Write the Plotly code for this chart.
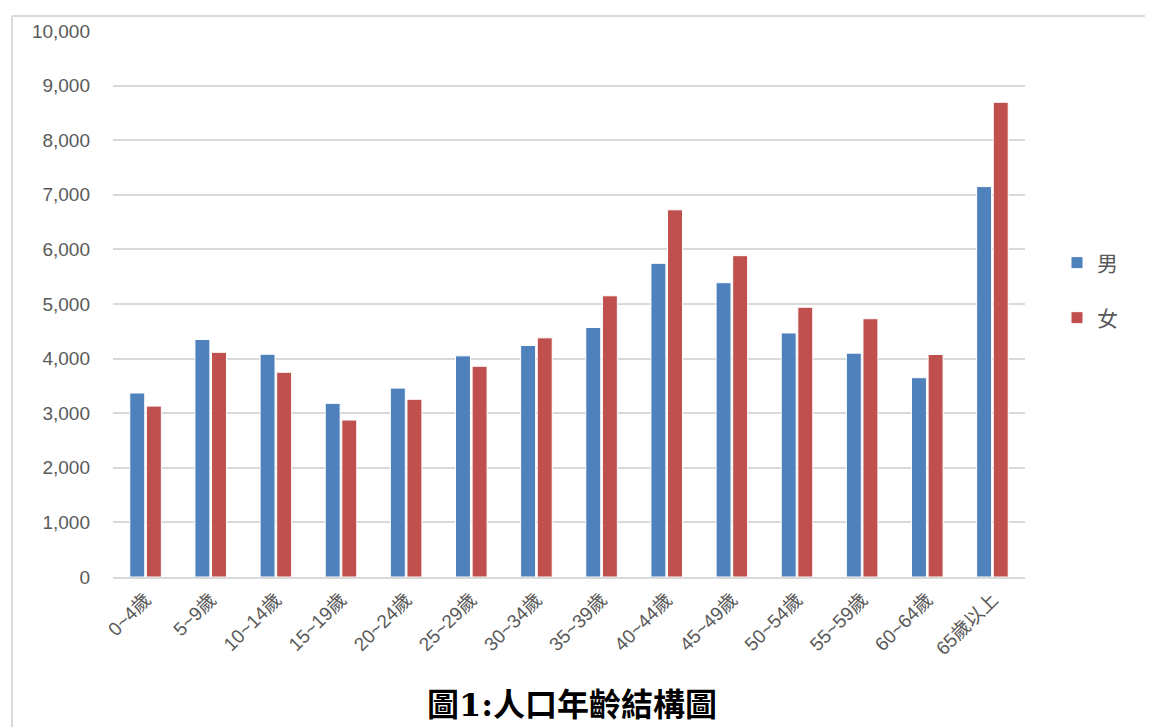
import plotly.graph_objects as go

categories = ["0~4歲", "5~9歲", "10~14歲", "15~19歲", "20~24歲", "25~29歲", "30~34歲",
              "35~39歲", "40~44歲", "45~49歲", "50~54歲", "55~59歲", "60~64歲", "65歲以上"]
male = [3370, 4350, 4080, 3180, 3460, 4050, 4240, 4570, 5745, 5390, 4470, 4100, 3650, 7150]
female = [3130, 4115, 3750, 2875, 3255, 3860, 4380, 5150, 6725, 5885, 4940, 4730, 4075, 8695]
y_ticks = [0, 1000, 2000, 3000, 4000, 5000, 6000, 7000, 8000, 9000, 10000]
title_text = "圖1:人口年齡結構圖"

FONT = "Liberation Sans, Noto Sans CJK TC, sans-serif"
GRAY = "#595959"
GRID = "#d9d9d9"

OFF = 8  # page body margin offset
W, H = 1153, 727
L, T = 113 - OFF, 31 - OFF
PLOT_RIGHT, PLOT_BOTTOM = 1025 - OFF, 577 - OFF
R, B = W - PLOT_RIGHT, H - PLOT_BOTTOM
pw, ph = PLOT_RIGHT - L, PLOT_BOTTOM - T

def px_x(px):
    return (px - OFF - L) / pw

def px_y(py):
    return (PLOT_BOTTOM - (py - OFF)) / ph

fig = go.Figure()
fig.add_trace(go.Bar(x=categories, y=male, name="男", legend="legend", showlegend=True,
                     marker=dict(color="#4f81bd", line=dict(color="white", width=1))))
fig.add_trace(go.Bar(x=categories, y=female, name="女", legend="legend2", showlegend=True,
                     marker=dict(color="#c0504d", line=dict(color="white", width=1))))

legend_common = dict(font=dict(family="Noto Sans CJK TC", size=21, color=GRAY),
                     bgcolor="rgba(0,0,0,0)", xanchor="left", yanchor="middle",
                     itemwidth=30)

fig.update_layout(
    width=W, height=H,
    margin=dict(l=L, r=R, t=T, b=B, autoexpand=False),
    paper_bgcolor="white", plot_bgcolor="white",
    showlegend=True,
    barmode="group", bargap=0.49, bargroupgap=0.1,
    font=dict(family=FONT, color=GRAY),
    legend=dict(x=px_x(1057), y=px_y(263), **legend_common),
    legend2=dict(x=px_x(1057), y=px_y(318), **legend_common),
    xaxis=dict(tickangle=-45, tickfont=dict(family=FONT, size=19, color=GRAY),
               showline=True, linecolor=GRID, linewidth=2, showgrid=False,
               ticks="", ticklabelstandoff=2),
    yaxis=dict(range=[0, 10000], tickvals=y_ticks, tickformat=",d",
               tickfont=dict(family=FONT, size=19, color=GRAY),
               showgrid=True, gridcolor=GRID, gridwidth=2, zeroline=False,
               showline=False, ticks="", ticklabelstandoff=22),
    shapes=[
        dict(type="line", xref="paper", yref="paper", x0=px_x(12), x1=px_x(12),
             y0=px_y(16), y1=px_y(740), line=dict(color=GRID, width=2)),
        dict(type="line", xref="paper", yref="paper", x0=px_x(12), x1=px_x(1165),
             y0=px_y(16), y1=px_y(16), line=dict(color=GRID, width=2)),
    ],
    annotations=[
        dict(text="<b>" + title_text + "</b>", xref="paper", yref="paper",
             x=px_x(572), y=px_y(705), xanchor="center", yanchor="middle",
             showarrow=False,
             font=dict(family="DejaVu Serif, Noto Sans CJK TC", size=32, color="black")),
    ],
)

fig.write_html("out.html")
